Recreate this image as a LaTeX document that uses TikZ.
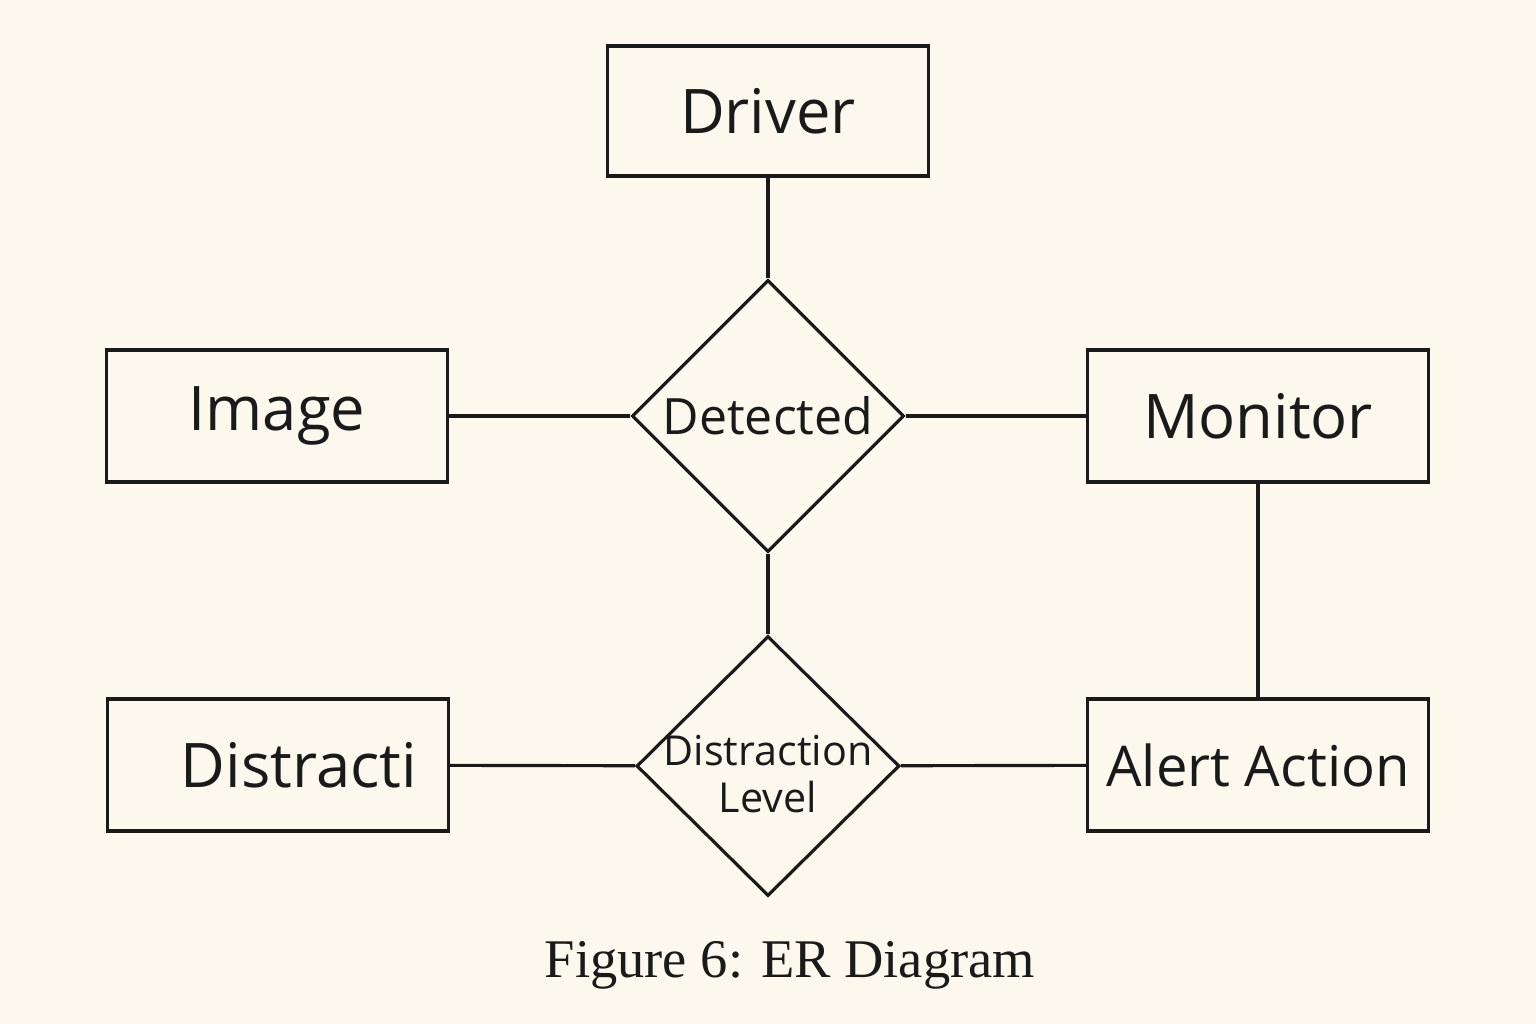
\documentclass[tikz,border=0pt]{standalone}
\usepackage{fontspec}
\setmainfont{Liberation Serif}
\setsansfont{Open Sans}
\usetikzlibrary{shapes.geometric}

\definecolor{paper}{RGB}{252,248,238}
\definecolor{ink}{RGB}{26,26,26}

\begin{document}
\begin{tikzpicture}[x=0.02cm,y=-0.02cm,
      every node/.style={text=ink,font=\sffamily},
      entity/.style={draw=ink,line width=1.8pt,rectangle,
                     minimum width=6.82cm,minimum height=2.64cm,
                     font=\sffamily\fontsize{35}{40}\selectfont},
      relation/.style={draw=ink,line width=1.8pt,diamond,inner sep=0pt,
                       minimum width=5.44cm,minimum height=5.44cm},
      link/.style={draw=ink,line width=1.8pt}
     ]
    \fill[paper] (0,0) rectangle (1536,1024);
    \useasboundingbox (0,0) rectangle (1536,1024);

    \node[entity,minimum width=6.42cm,minimum height=2.6cm] (driver) at (768,111) {Driver};
    \node[relation,label={[font=\sffamily\fontsize{28.5}{32}\selectfont]center:Detected}] (detected) at (768,416) {};
    \node[entity] (image) at (277,416) {Image};
    \node[entity] (monitor) at (1258,416) {Monitor};
    \node[relation,minimum width=5.26cm,minimum height=5.2cm,
          label={[align=center,yshift=-0.16cm,font=\sffamily\fontsize{23.5}{26.7}\selectfont]center:Distraction\\Level}] (level) at (768,766) {};
    \node[entity] (distracti) at (278,765) {\hspace*{0.84cm}Distracti};
    \node[entity,font=\sffamily\fontsize{32}{38}\selectfont] (alert) at (1258,765) {Alert Action};

    \draw[link] (driver) -- (detected);
    \draw[link] (image) -- (detected);
    \draw[link] (detected) -- (monitor);
    \draw[link] (detected) -- (level);
    \draw[link] (distracti) -- (level);
    \draw[link] (level) -- (alert);
    \draw[link] (monitor) -- (alert);

    \node[font=\rmfamily\fontsize{31}{34}\selectfont,anchor=base] (caption) at (790,977) {Figure 6: ER Diagram};
\end{tikzpicture}
\end{document}
